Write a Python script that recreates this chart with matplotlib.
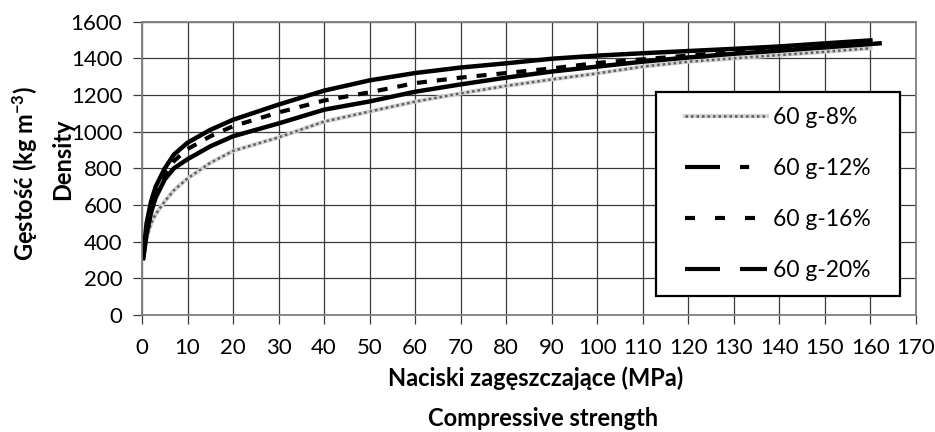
import matplotlib
matplotlib.use("Agg")
import matplotlib.pyplot as plt
from matplotlib.lines import Line2D
from matplotlib.patches import Rectangle
from matplotlib.legend_handler import HandlerTuple

# compaction pressure (MPa) and density (kg m-3)
pressure = [0.3, 1, 2, 3, 5, 7, 10, 15, 20, 30, 40, 50, 60, 70, 80, 90,
            100, 110, 120, 130, 140, 150, 160]
pressure_12 = pressure + [162]

density_8 = [330, 420, 500, 550, 620, 680, 745, 830, 895, 969, 1055, 1110,
             1164, 1209, 1250, 1285, 1318, 1355, 1382, 1400, 1418, 1436, 1455]
density_12 = [310, 440, 560, 640, 740, 800, 850, 920, 975, 1045, 1120, 1165,
              1218, 1258, 1295, 1328, 1355, 1382, 1405, 1425, 1442, 1460, 1478, 1482]
density_16 = [320, 470, 590, 670, 770, 840, 905, 975, 1030, 1105, 1170, 1215,
              1265, 1295, 1320, 1345, 1375, 1395, 1415, 1435, 1452, 1470, 1488]
density_20 = [330, 500, 620, 700, 800, 875, 940, 1010, 1065, 1148, 1224, 1280,
              1320, 1350, 1373, 1398, 1415, 1428, 1440, 1452, 1465, 1482, 1498]

labels = ["60 g-8%", "60 g-12%", "60 g-16%", "60 g-20%"]
x_ticks = list(range(0, 171, 10))
y_ticks = list(range(0, 1601, 200))

plt.rcParams['font.family'] = ['Lato', 'DejaVu Sans']
plt.rcParams['mathtext.default'] = 'regular'

fig = plt.figure(figsize=(9.35, 4.32), dpi=100)
ax = fig.add_axes([142 / 935, 117 / 432, 774 / 935, 293.3 / 432])

# dotted grey series: light base with darker dots
ax.plot(pressure, density_8, color='#d2d2d2', lw=3.0, zorder=2)
ax.plot(pressure, density_8, color='#5e5e5e', lw=1.8, dashes=(1, 1.2), zorder=2)
ax.plot(pressure_12, density_12, color='black', lw=3.2, zorder=2)
ax.plot(pressure, density_16, color='black', lw=3.0, dashes=(2.4, 2.4), zorder=2)
ax.plot(pressure, density_20, color='black', lw=3.2, zorder=2)

ax.set_xlim(0, 170)
ax.set_ylim(0, 1600)
ax.set_xticks(x_ticks)
ax.set_yticks(y_ticks)
ax.grid(True, color='#3a3a3a', lw=0.9, zorder=0)
ax.set_axisbelow(True)
for s in ax.spines.values():
    s.set_color('#808080')
    s.set_linewidth(1.3)
ax.tick_params(axis='both', labelsize=16, color='#3a3a3a', length=6.2, width=0.9)
ax.tick_params(axis='y', pad=8)
ax.tick_params(axis='x', pad=10)

# legend box
ax.add_patch(Rectangle((0.664, 0.065), 0.315, 0.695, transform=ax.transAxes,
                       facecolor='white', edgecolor='black', lw=1.6, zorder=3))
h8 = (Line2D([], [], color='#d2d2d2', lw=3.0),
      Line2D([], [], color='#5e5e5e', lw=1.8, dashes=(1, 1.2)))
h12 = Line2D([], [], color='black', lw=3.0, dashes=(8.4, 4.8, 2.2, 4.8))
h16 = Line2D([], [], color='black', lw=3.0, dashes=(2.4, 4.8))
h20 = Line2D([], [], color='black', lw=3.0, dashes=(8.4, 4.8))
leg = ax.legend([h8, h12, h16, h20], labels, loc='center',
                bbox_to_anchor=(0.664 + 0.315 / 2, 0.065 + 0.695 / 2),
                frameon=False, fontsize=16.5, handlelength=3.6, handletextpad=0.25,
                labelspacing=1.3, handler_map={tuple: HandlerTuple(ndivide=1)})
leg.set_zorder(4)

fig.text(536 / 935, 1 - 378 / 432, "Naciski zagęszczające (MPa)", ha='center',
         va='center', fontsize=17, fontweight='bold')
fig.text(543 / 935, 1 - 419 / 432, "Compressive strength", ha='center',
         va='center', fontsize=17, fontweight='bold')
fig.text(25 / 935, 1 - 174 / 432, "Gęstość (kg m$^{-3}$)", rotation=90,
         ha='center', va='center', fontsize=17, fontweight='bold')
fig.text(63 / 935, 1 - 159 / 432, "Density", rotation=90,
         ha='center', va='center', fontsize=17, fontweight='bold')

fig.savefig("out.png", dpi=100)
